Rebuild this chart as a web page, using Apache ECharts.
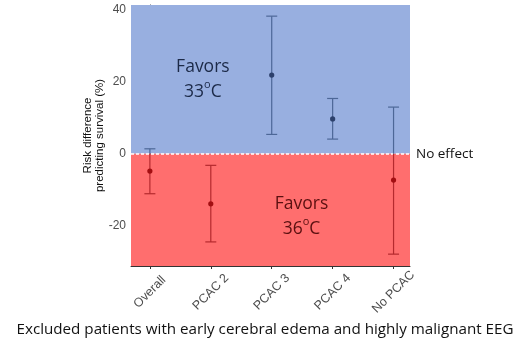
<!DOCTYPE html>
<html>
<head>
<meta charset="utf-8">
<script src="https://cdn.jsdelivr.net/npm/echarts@6/dist/echarts.min.js"></script>
<style>
  html, body { margin: 0; padding: 0; background: #fff; }
  #chart { width: 530px; height: 345px; }
</style>
</head>
<body>
<div id="chart"></div>
<script>
// Subgroups and risk differences (%) with 95% confidence limits
const categories = ['Overall', 'PCAC 2', 'PCAC 3', 'PCAC 4', 'No PCAC'];
const estimate   = [-4.8, -13.9, 21.9, 9.7, -7.3];
const lowerCI    = [-11.1, -24.5, 5.4, 4.1, -27.9];
const upperCI    = [1.4, -3.2, 38.3, 15.4, 13.0];
const yTicks     = [-20, 0, 20, 40];

const Y_MIN = -31.2, Y_MAX = 41.4;
const X_MIN = -0.31, X_MAX = 4.27;

const BLUE_BG = '#98afe0', RED_BG = '#ff6e6e';
const BLUE_BAR = '#4d6797', RED_BAR = '#b52a2e';
const BLUE_PT = '#2c406c', RED_PT = '#a30f12';

const chart = echarts.init(document.getElementById('chart'));

const barData = categories.map((c, i) => [i, estimate[i], lowerCI[i], upperCI[i]]);

function renderErrorBar(params, api) {
  const i = api.value(0);
  const est = api.value(1), lo = api.value(2), hi = api.value(3);
  const xc = api.coord([i, 0])[0];
  const y0 = api.coord([i, 0])[1];
  const yLo = api.coord([i, lo])[1];
  const yHi = api.coord([i, hi])[1];
  const yEst = api.coord([i, est])[1];
  const capHalf = 5.5;
  const children = [];
  // vertical segment, tinted by the region it crosses
  if (hi > 0 && lo < 0) {
    children.push({ type: 'line', shape: { x1: xc, y1: yHi, x2: xc, y2: y0 }, style: { stroke: BLUE_BAR, lineWidth: 1.2 } });
    children.push({ type: 'line', shape: { x1: xc, y1: y0, x2: xc, y2: yLo }, style: { stroke: RED_BAR, lineWidth: 1.2 } });
  } else {
    children.push({ type: 'line', shape: { x1: xc, y1: yHi, x2: xc, y2: yLo }, style: { stroke: lo >= 0 ? BLUE_BAR : RED_BAR, lineWidth: 1.2 } });
  }
  // caps
  children.push({ type: 'line', shape: { x1: xc - capHalf, y1: yHi, x2: xc + capHalf, y2: yHi }, style: { stroke: hi >= 0 ? BLUE_BAR : RED_BAR, lineWidth: 1.2 } });
  children.push({ type: 'line', shape: { x1: xc - capHalf, y1: yLo, x2: xc + capHalf, y2: yLo }, style: { stroke: lo >= 0 ? BLUE_BAR : RED_BAR, lineWidth: 1.2 } });
  // point estimate
  children.push({ type: 'circle', shape: { cx: xc, cy: yEst, r: 2.6 }, style: { fill: est >= 0 ? BLUE_PT : RED_PT } });
  return { type: 'group', children };
}

const axisGray = '#4d4d4d';

chart.setOption({
  animation: false,
  backgroundColor: '#ffffff',
  grid: { left: 131, right: 120, top: 5, bottom: 79 },
  title: {
    text: 'Excluded patients with early cerebral edema and highly malignant EEG',
    left: 'center',
    bottom: 3,
    textStyle: { fontFamily: 'Open Sans', fontSize: 15.2, fontWeight: 'normal', color: '#111' }
  },
  xAxis: {
    type: 'value',
    min: X_MIN, max: X_MAX,
    splitLine: { show: false },
    axisLine: { show: true, onZero: false, lineStyle: { color: '#333', width: 1 } },
    axisTick: { show: true, customValues: categories.map((c, i) => i), length: 3, lineStyle: { color: '#333' } },
    axisLabel: {
      customValues: categories.map((c, i) => i),
      formatter: v => categories[Math.round(v)] || '',
      rotate: 45,
      align: 'center',
      verticalAlign: 'middle',
      margin: 26,
      color: axisGray,
      fontFamily: 'Liberation Sans',
      fontSize: 12.5
    }
  },
  yAxis: {
    type: 'value',
    min: Y_MIN, max: Y_MAX,
    name: 'Risk difference\npredicting survival (%)',
    nameLocation: 'middle',
    nameGap: 25,
    nameMoveOverlap: false,
    nameTextStyle: { fontFamily: 'Liberation Sans', fontSize: 11.5, color: '#111', lineHeight: 12 },
    splitLine: { show: false },
    axisLine: { show: true, lineStyle: { color: '#333', width: 1 } },
    axisTick: { show: true, customValues: yTicks, length: 3, lineStyle: { color: '#333' } },
    axisLabel: { customValues: yTicks, margin: 5, color: axisGray, fontFamily: 'Liberation Sans', fontSize: 12 }
  },
  series: [
    {
      type: 'custom',
      renderItem: renderErrorBar,
      data: barData,
      z: 5,
      markArea: {
        silent: true,
        itemStyle: { opacity: 1 },
        data: [
          [{ yAxis: 0, itemStyle: { color: BLUE_BG } }, { yAxis: Y_MAX }],
          [{ yAxis: Y_MIN, itemStyle: { color: RED_BG } }, { yAxis: 0 }]
        ]
      },
      markLine: {
        silent: true,
        symbol: 'none',
        lineStyle: { color: '#ffffff', type: [3, 2], width: 1.5 },
        label: {
          show: true,
          position: 'end',
          formatter: 'No effect',
          distance: 6,
          color: '#111',
          fontFamily: 'Open Sans',
          fontSize: 13.5
        },
        data: [{ yAxis: 0 }]
      },
      markPoint: {
        silent: true,
        symbol: 'circle',
        symbolSize: 1,
        itemStyle: { color: 'rgba(0,0,0,0)' },
        label: {
          show: true,
          position: 'inside',
          fontFamily: 'Open Sans',
          fontSize: 17.5,
          lineHeight: 25,
          align: 'center',
          verticalAlign: 'middle',
          rich: {
            sup: { fontSize: 11, verticalAlign: 'top', lineHeight: 16, fontFamily: 'Open Sans' }
          }
        },
        data: [
          { coord: [0.87, 20.6], label: { formatter: 'Favors\n33{sup|o}C', color: '#1c2a48', rich: { sup: { color: '#1c2a48' } } } },
          { coord: [2.49, -17.5], label: { formatter: 'Favors\n36{sup|o}C', color: '#5a1010', rich: { sup: { color: '#5a1010' } } } }
        ]
      }
    }
  ]
});
</script>
</body>
</html>
